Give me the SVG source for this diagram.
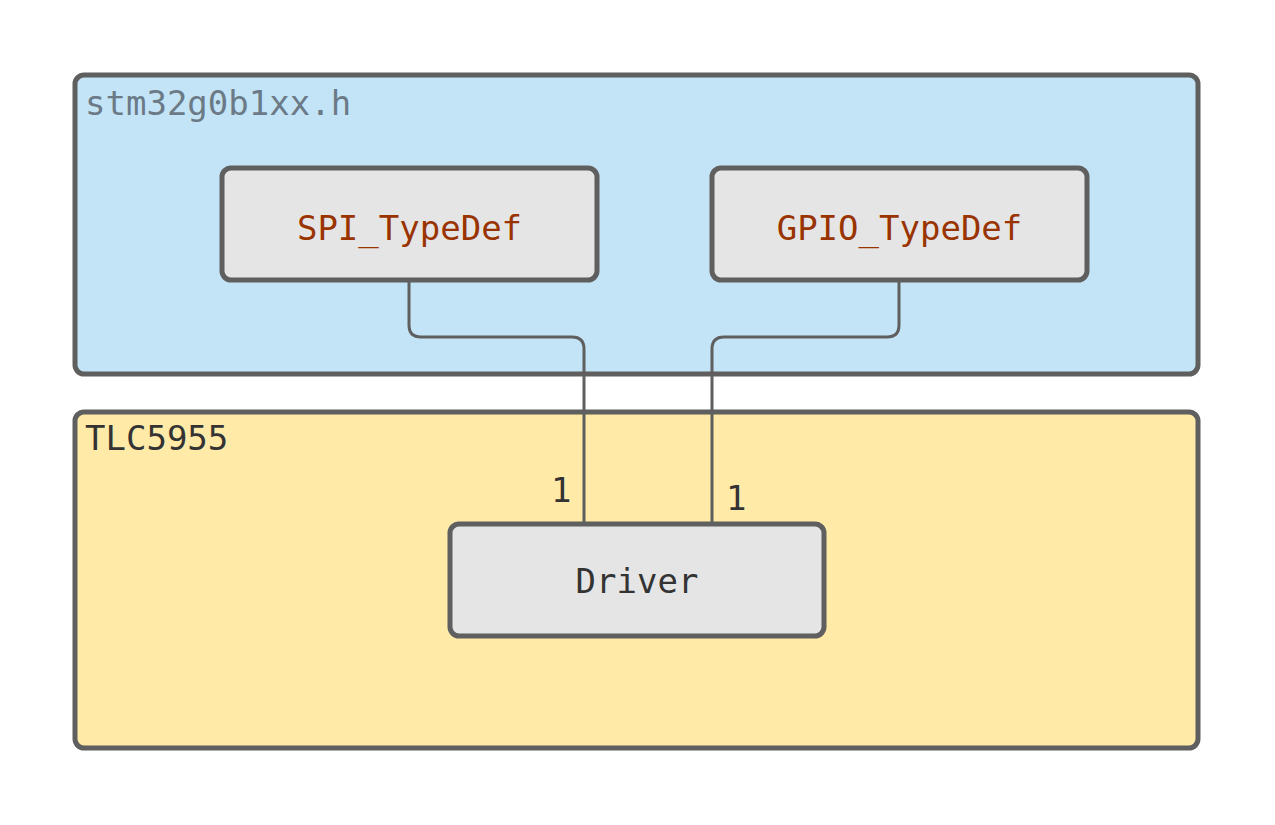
<svg xmlns="http://www.w3.org/2000/svg" width="1275" height="825" viewBox="0 0 1275 825">
<style>
.pkg{stroke:#5f5f5f;stroke-width:5}
.node{fill:#e5e5e5;stroke:#5f5f5f;stroke-width:5}
.t{font-family:"DejaVu Sans Mono","Liberation Mono",monospace;font-size:34px}
.conn{fill:none;stroke:#5f5f5f;stroke-width:3}
</style>
<rect width="1275" height="825" fill="#ffffff"/>
<g id="pkg-stm32">
<rect class="pkg" x="75" y="75" width="1123" height="299" rx="9" fill="#c2e4f6"/>
<text class="t" x="85" y="115" fill="#6b7a86">stm32g0b1xx.h</text>
</g>
<g id="pkg-tlc">
<rect class="pkg" x="75" y="412" width="1123" height="336" rx="9" fill="#ffeaa7"/>
<text class="t" x="85" y="450" fill="#333333">TLC5955</text>
</g>
<g id="connectors">
<path class="conn" d="M409 280 V325 Q409 337 421 337 H572 Q584 337 584 349 V524"/>
<path class="conn" d="M899 280 V325 Q899 337 887 337 H724 Q712 337 712 349 V524"/>
<text class="t" x="551" y="502" fill="#333333" font-size="32">1</text>
<text class="t" x="726" y="510" fill="#333333" font-size="32">1</text>
</g>
<g id="spi">
<rect class="node" x="222" y="168" width="375" height="112" rx="9"/>
<text class="t" x="409.5" y="240" text-anchor="middle" fill="#993300">SPI_TypeDef</text>
</g>
<g id="gpio">
<rect class="node" x="712" y="168" width="375" height="112" rx="9"/>
<text class="t" x="899.5" y="240" text-anchor="middle" fill="#993300">GPIO_TypeDef</text>
</g>
<g id="driver">
<rect class="node" x="450" y="524" width="374" height="112" rx="9"/>
<text class="t" x="637" y="593" text-anchor="middle" fill="#333333">Driver</text>
</g>
</svg>
